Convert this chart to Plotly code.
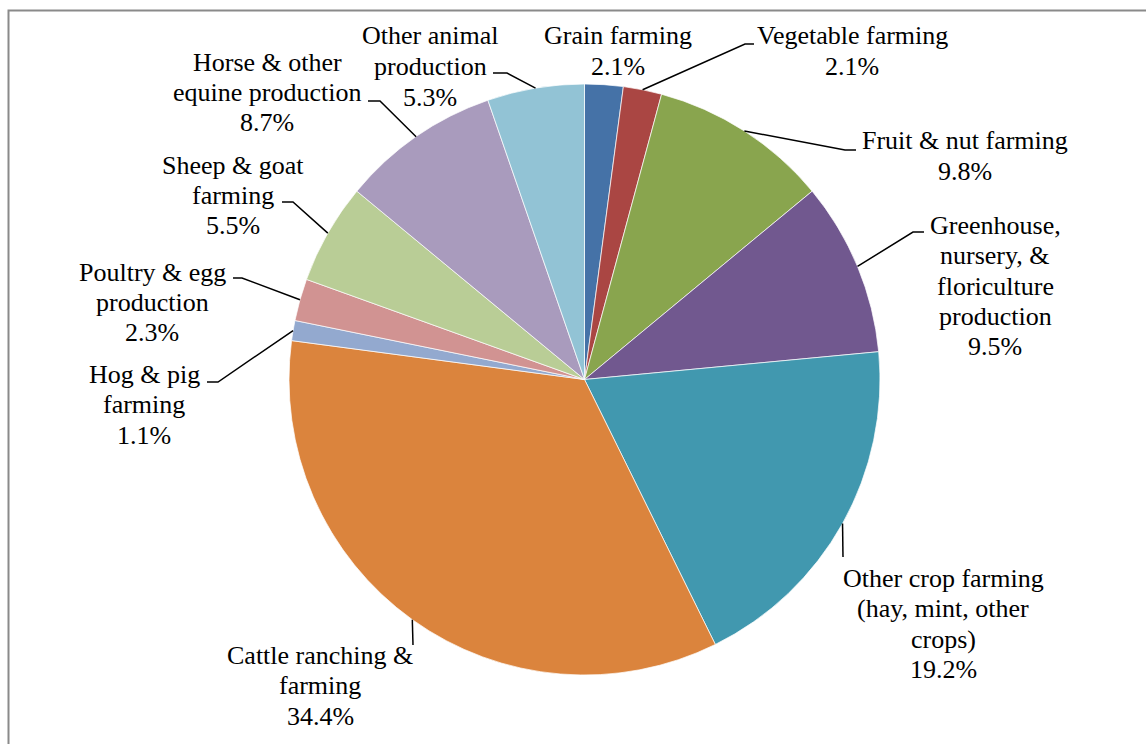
import math
import plotly.graph_objects as go

W, H = 1146, 744

# ---- data ----
categories = ["Grain farming", "Vegetable farming", "Fruit & nut farming",
              "Greenhouse, nursery, & floriculture production",
              "Other crop farming (hay, mint, other crops)",
              "Cattle ranching & farming", "Hog & pig farming",
              "Poultry & egg production", "Sheep & goat farming",
              "Horse & other equine production", "Other animal production"]
values = [2.1, 2.1, 9.8, 9.5, 19.2, 34.4, 1.1, 2.3, 5.5, 8.7, 5.3]
label_lines = [
    ["Grain farming"],
    ["Vegetable farming"],
    ["Fruit & nut farming"],
    ["Greenhouse,", "nursery, &", "floriculture", "production"],
    ["Other crop farming", "(hay, mint, other", "crops)"],
    ["Cattle ranching &", "farming"],
    ["Hog & pig", "farming"],
    ["Poultry & egg", "production"],
    ["Sheep & goat", "farming"],
    ["Horse & other", "equine production"],
    ["Other animal", "production"],
]

# ---- styles / layout (pixels) ----
colors = ["#4572A7", "#AA4643", "#89A54E", "#71588F", "#4198AF", "#DB843D",
          "#93A9CF", "#D19392", "#B9CD96", "#A99BBD", "#92C3D5"]
CX, CY, R = 584.5, 379.5, 295.5
# label centre x, first line centre y
label_pos = [(618, 36), (852, 36), (965, 141), (995, 225), (943, 578),
             (320, 655), (144, 374), (152, 272), (233, 165), (267, 62), (430, 36)]
LINE_H = 30.5
# leader elbows: list of points after the pie-edge start (None = no leader)
leader_pts = [None,
              [(745, 44), (754, 44)],
              [(845, 150), (856, 150)],
              [(913, 232), (924, 232)],
              [(843, 557)],
              [(413, 645)],
              [(218, 382), (207, 382)],
              [(242, 278), (233, 278)],
              [(293, 202), (282, 202)],
              [(380, 101), (368, 101)],
              [(507, 73), (493, 73)]]

def px(x):
    return x / W

def py(y):
    return 1 - y / H

fig = go.Figure(go.Pie(
    labels=categories, values=values, sort=False, direction="clockwise",
    rotation=0, textinfo="none", hoverinfo="label+percent",
    marker=dict(colors=colors, line=dict(color="rgba(255,255,255,0.7)", width=1)),
    showlegend=False,
    domain=dict(x=[px(CX - R), px(CX + R)], y=[py(CY + R), py(CY - R)]),
))

font = dict(family="Liberation Serif, Times New Roman, serif", size=26, color="black")
annotations = []
shapes = []
total = sum(values)
cum = 0.0
for i, v in enumerate(values):
    mid = (cum + v / 2) / total * 2 * math.pi
    cum += v
    lx, ly = label_pos[i]
    lines = label_lines[i] + [f"{v:.1f}%"]
    for k, t in enumerate(lines):
        annotations.append(dict(x=px(lx), y=py(ly + k * LINE_H), xref="paper", yref="paper",
                                text=t, showarrow=False, xanchor="center", yanchor="middle",
                                font=font))
    if leader_pts[i]:
        sx = CX + R * math.sin(mid)
        sy = CY - R * math.cos(mid)
        pts = [(sx, sy)] + leader_pts[i]
        path = "M " + " L ".join(f"{px(a):.5f},{py(b):.5f}" for a, b in pts)
        shapes.append(dict(type="path", path=path, xref="paper", yref="paper",
                           line=dict(color="black", width=1.5)))

# chart border
shapes.append(dict(type="rect", xref="paper", yref="paper",
                   x0=px(8.5), x1=px(1160), y0=py(760), y1=py(10.5),
                   line=dict(color="#8a8a8a", width=2), layer="below"))

fig.update_layout(width=W, height=H, margin=dict(l=0, r=0, t=0, b=0),
                  paper_bgcolor="white", plot_bgcolor="white",
                  annotations=annotations, shapes=shapes)
fig.write_html("out.html", config={"displayModeBar": False})

# remove default page margin so the figure sits at the window origin
with open("out.html", "r", encoding="utf-8") as f:
    html = f.read()
html = html.replace("<body>", '<body style="margin:0;overflow:hidden">', 1)
with open("out.html", "w", encoding="utf-8") as f:
    f.write(html)
